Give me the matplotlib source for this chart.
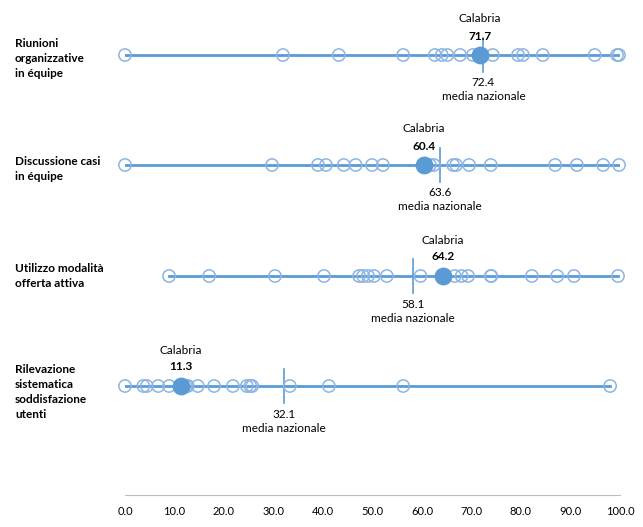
import numpy as np
import matplotlib
matplotlib.use("Agg")
import matplotlib.pyplot as plt

plt.rcParams['font.family'] = ['Lato', 'DejaVu Sans']

categories = ["Riunioni\norganizzative\nin équipe",
              "Discussione casi\nin équipe",
              "Utilizzo modalità\nofferta attiva",
              "Rilevazione\nsistematica\nsoddisfazione\nutenti"]

# regional values (open circles)
regions = [
    [0, 31.9, 43.2, 56.2, 62.6, 64.0, 65.1, 67.7, 70.3, 74.3, 79.4, 80.4, 84.4, 94.9, 99.4, 99.8],
    [0, 29.7, 39.0, 40.6, 44.2, 46.6, 49.9, 52.1, 61.6, 62.4, 66.3, 66.9, 69.5, 73.9, 86.9, 91.3, 96.6, 99.8],
    [8.9, 17.0, 30.3, 40.2, 47.3, 48.1, 49.1, 50.3, 52.9, 59.7, 66.6, 68.0, 69.3, 73.9, 74.0, 82.2, 87.3, 90.7, 99.6],
    [0, 3.7, 4.4, 6.7, 8.9, 12.3, 12.7, 14.7, 18.0, 21.8, 24.6, 25.3, 25.7, 33.3, 41.2, 56.2, 98.0],
]
calabria = [71.7, 60.4, 64.2, 11.3]
media_nazionale = [72.4, 63.6, 58.1, 32.1]

xticks = np.arange(0, 101, 10)

W, H = 643, 527
row_y = [55, 165, 276, 386]      # pixel rows
label_top = [38, 156, 263, 364]  # pixel top of category labels

blue = '#5B9BD5'
light = '#8DB4E2'

fig = plt.figure(figsize=(W / 100, H / 100), dpi=100)
ax_bottom = 495
ax = fig.add_axes([125 / W, (H - ax_bottom) / H, 495 / W, ax_bottom / H])
ax.set_xlim(0, 100)
ax.set_ylim(ax_bottom, 0)

for i in range(len(categories)):
    y = row_y[i]
    vals = regions[i] + [calabria[i]]
    ax.plot([min(vals), max(vals)], [y, y], color=blue, lw=2, zorder=1)
    ax.scatter(regions[i], [y] * len(regions[i]), s=78, facecolors='none',
               edgecolors=light, linewidths=1.1, zorder=2, clip_on=False)
    ax.scatter([calabria[i]], [y], s=140, color=blue, zorder=3, clip_on=False)
    m = media_nazionale[i]
    ax.plot([m, m], [y - 17, y + 17], color=blue, lw=1.2, zorder=1)
    ax.text(calabria[i], y - 36, "Calabria", ha='center', va='center', fontsize=8.5)
    ax.text(calabria[i], y - 19, f"{calabria[i]:.1f}", ha='center', va='center',
            fontsize=8.5, fontweight='bold')
    ax.text(m, y + 28, f"{m:.1f}", ha='center', va='center', fontsize=8.5)
    ax.text(m, y + 42, "media nazionale", ha='center', va='center', fontsize=8.5)
    fig.text(15 / W, 1 - label_top[i] / H, categories[i], ha='left', va='top',
             fontsize=8.5, fontweight='bold', linespacing=1.45)

for s in ['top', 'left', 'right']:
    ax.spines[s].set_visible(False)
ax.spines['bottom'].set_color('#BFBFBF')
ax.set_yticks([])
ax.set_xticks(xticks)
ax.set_xticklabels([f"{t:.1f}" for t in xticks], fontsize=8)
ax.tick_params(axis='x', length=0, pad=8)

fig.savefig("out.png", dpi=100)
